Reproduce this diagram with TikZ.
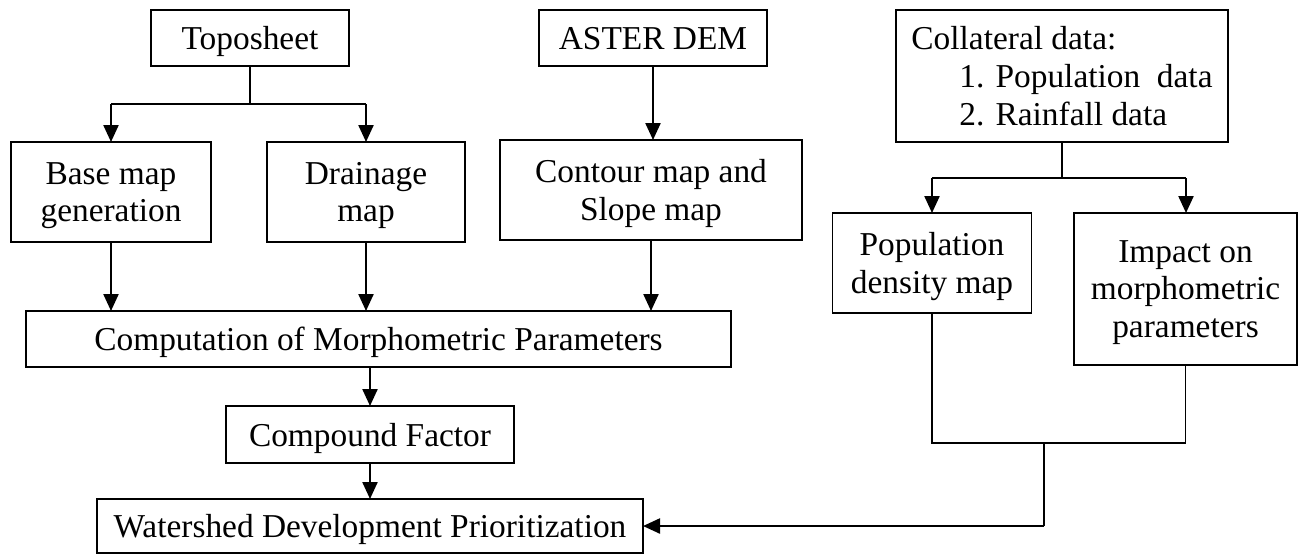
\documentclass[tikz,border=0pt]{standalone}
\usepackage{fontspec}
\setmainfont{Liberation Serif}
\usetikzlibrary{arrows.meta,positioning,calc}

\begin{document}
\begin{tikzpicture}[x=0.02cm,y=-0.02cm,
	font=\fontsize{19}{21.5}\selectfont,
	box/.style={draw,line width=0.75pt,inner sep=0pt,outer sep=0pt,align=center,text depth=0pt},
	ln/.style={line width=0.75pt},
	arr/.style={line width=1.3pt,-{Triangle[length=0.34cm,width=0.3cm]}}]
	\useasboundingbox (0,0) rectangle (1301,556);

	\node[box,minimum width=198*0.02cm,minimum height=56*0.02cm] (topo) at (250,38) {Toposheet};
	\node[box,minimum width=228*0.02cm,minimum height=56*0.02cm] (dem) at (653,38) {ASTER DEM};
	\node[box,minimum width=332*0.02cm,minimum height=132*0.02cm,align=left] (coll) at (1062,76)
		{Collateral data:\\\hspace{0.96cm}1. Population\ \ data\\\hspace{0.96cm}2. Rainfall data};

	\node[box,minimum width=200*0.02cm,minimum height=100*0.02cm] (base) at (111,192) {Base map\\generation};
	\node[box,minimum width=198*0.02cm,minimum height=100*0.02cm] (drain) at (366,192) {Drainage\\map};
	\node[box,minimum width=302*0.02cm,minimum height=100*0.02cm] (cont) at (651,190) {Contour map and\\Slope map};
	\node[box,minimum width=199*0.02cm,minimum height=100*0.02cm] (pop) at (932,263) {Population\\density map};
	\node[box,minimum width=223*0.02cm,minimum height=152*0.02cm] (impact) at (1185.5,289) {Impact on\\morphometric\\parameters};

	\node[box,minimum width=705*0.02cm,minimum height=56*0.02cm] (comp) at (378.5,339) {Computation of Morphometric Parameters};
	\node[box,minimum width=288*0.02cm,minimum height=57*0.02cm] (cf) at (370,434.5) {Compound Factor};
	\node[box,minimum width=546*0.02cm,minimum height=54*0.02cm] (ws) at (370,526) {Watershed Development Prioritization};

	\coordinate (tl) at (111,104);
	\coordinate (tr) at (366,104);
	\coordinate (cl) at (932,178);
	\coordinate (cr) at (1186,178);
	\coordinate (jn) at (1044,443);

	\draw[ln] (topo.south) -- (topo.south |- tl);
	\draw[ln] (tl) -- (tr);
	\draw[arr] (tl) -- (base.north);
	\draw[arr] (tr) -- (drain.north);
	\draw[arr] (dem.south) -- (dem.south |- cont.north);

	\draw[ln] (coll.south) -- (coll.south |- cl);
	\draw[ln] (cl) -- (cr);
	\draw[arr] (cl) -- (pop.north);
	\draw[arr] (cr) -- (cr |- impact.north);

	\draw[arr] (base.south) -- (base.south |- comp.north);
	\draw[arr] (drain.south) -- (drain.south |- comp.north);
	\draw[arr] (cont.south) -- (cont.south |- comp.north);
	\draw[arr] (cf.north |- comp.south) -- (cf.north);
	\draw[arr] (cf.south) -- (ws.north);

	\draw[ln] (pop.south) -- (pop.south |- jn) -- (impact.south |- jn) -- (impact.south);
	\draw[ln] (jn) -- (jn |- ws.east);
	\draw[arr] (jn |- ws.east) -- (ws.east);
\end{tikzpicture}
\end{document}
